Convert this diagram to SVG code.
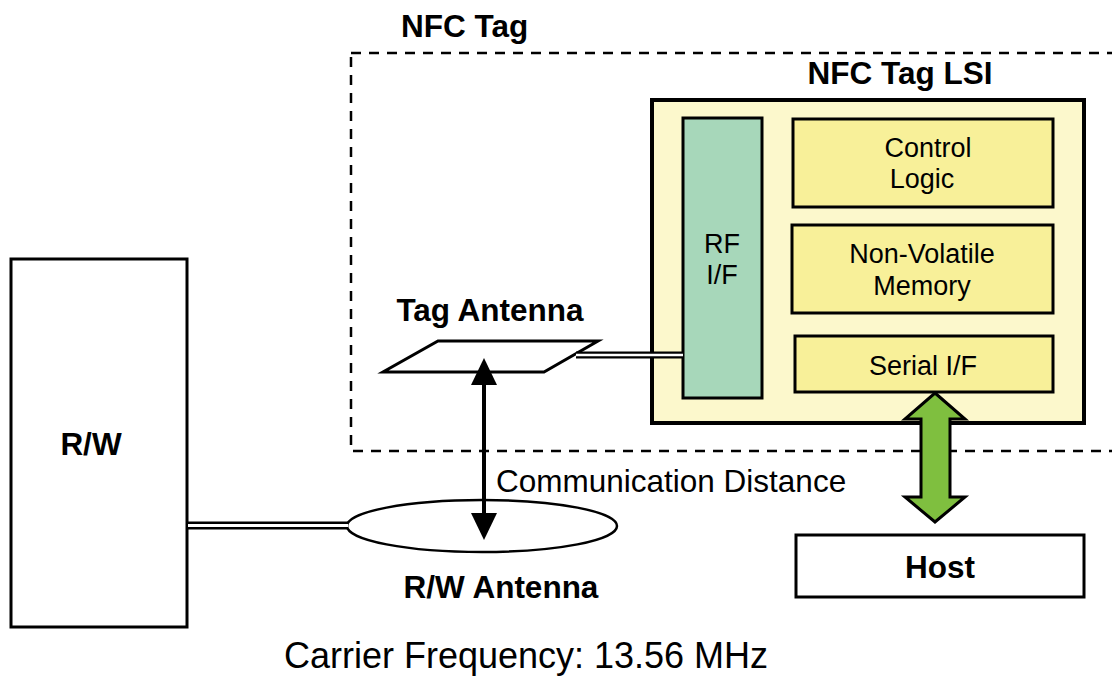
<svg xmlns="http://www.w3.org/2000/svg" width="1112" height="677" viewBox="0 0 1112 677">
  <style>
    text { font-family: "Liberation Sans", Arial, sans-serif; fill: #000; }
    .bold { font-weight: bold; font-size: 31.5px; }
    .inner { font-size: 27px; text-anchor: middle; }
    .box { stroke: #000; stroke-width: 3; }
    .mid { text-anchor: middle; }
  </style>
  <rect width="1112" height="677" fill="#fff"/>

  <!-- NFC tag boundary (runs past the right edge) -->
  <g id="nfc-tag">
    <rect x="351" y="53" width="770" height="398" fill="none" stroke="#000" stroke-width="2.5" stroke-dasharray="10,8"/>
    <text class="bold" x="401" y="37">NFC Tag</text>
  </g>

  <!-- Tag LSI -->
  <g id="lsi">
    <rect x="652" y="100" width="432" height="323" fill="#fcf8cc" stroke="#000" stroke-width="4"/>
    <text class="bold mid" x="900" y="84">NFC Tag LSI</text>
  </g>
  <g id="rf-if">
    <rect class="box" x="683" y="118" width="79" height="280" fill="#a7d7ba"/>
    <text class="inner" x="722" y="253">RF</text>
    <text class="inner" x="722" y="284">I/F</text>
  </g>
  <g id="control-logic">
    <rect class="box" x="793" y="119" width="260" height="88" fill="#f8f099"/>
    <text class="inner" x="928" y="157">Control</text>
    <text class="inner" x="922" y="188">Logic</text>
  </g>
  <g id="nv-memory">
    <rect class="box" x="792" y="225" width="261" height="88" fill="#f8f099"/>
    <text class="inner" x="922" y="263">Non-Volatile</text>
    <text class="inner" x="922" y="295">Memory</text>
  </g>
  <g id="serial-if">
    <rect class="box" x="795" y="336" width="258" height="56" fill="#f8f099"/>
    <text class="inner" x="923" y="375">Serial I/F</text>
  </g>

  <!-- Tag antenna -->
  <g id="tag-antenna">
    <polygon points="438,341 598,341 544,372 383,372" fill="#fff" stroke="#000" stroke-width="3"/>
    <text class="bold mid" x="490" y="321">Tag Antenna</text>
  </g>

  <!-- Reader/writer -->
  <g id="rw">
    <rect class="box" x="11" y="259" width="176" height="368" fill="#fff"/>
    <text class="bold mid" x="91" y="455">R/W</text>
  </g>
  <g id="rw-antenna">
    <ellipse cx="482" cy="526" rx="135" ry="26" fill="#fff" stroke="#000" stroke-width="2.5"/>
    <text class="bold mid" x="501" y="598">R/W Antenna</text>
  </g>

  <!-- Host -->
  <g id="host">
    <rect class="box" x="796" y="535" width="288" height="62" fill="#fff"/>
    <text class="bold mid" x="940" y="578">Host</text>
  </g>

  <!-- Connectors -->
  <g id="connectors">
    <!-- antenna feed lines (double line) -->
    <path d="M188,525.5 H348" stroke="#000" stroke-width="8" fill="none"/>
    <path d="M188,525.5 H348" stroke="#fff" stroke-width="3" fill="none"/>
    <path d="M576,355 H683" stroke="#000" stroke-width="7" fill="none"/>
    <path d="M576,355 H683" stroke="#fff" stroke-width="2.5" fill="none"/>
    <!-- communication distance -->
    <line x1="484" y1="385" x2="484" y2="515" stroke="#000" stroke-width="4"/>
    <polygon points="484,358 497,385 471,385" fill="#000"/>
    <polygon points="484,540 497,513 471,513" fill="#000"/>
    <text x="496" y="492" style="font-size:31.5px">Communication Distance</text>
    <!-- host bus -->
    <polygon points="935,393 965,419 950,419 950,497 965,497 935,522 905,497 921,497 921,419 905,419" fill="#7fbf3f" stroke="#000" stroke-width="3" stroke-linejoin="miter"/>
  </g>

  <text x="526" y="668" class="mid" style="font-size:36px">Carrier Frequency: 13.56 MHz</text>
</svg>
